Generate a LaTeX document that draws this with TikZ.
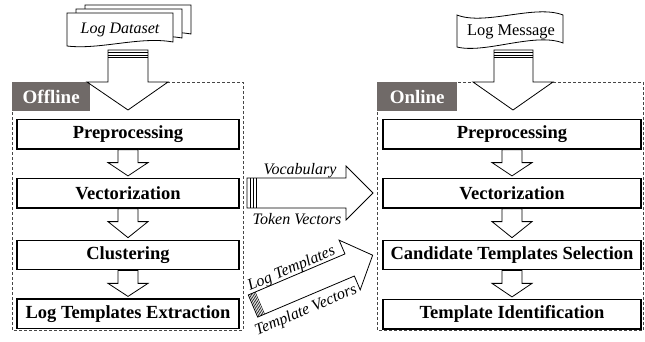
\documentclass[tikz,border=0pt]{standalone}
\usepackage{fontspec}
\setmainfont{Liberation Serif}
\usetikzlibrary{calc}
\definecolor{labgray}{RGB}{112,106,104}
\definecolor{dashgray}{RGB}{70,70,70}
\newcommand\blockdown[2]{%
  \draw[smallarrow] ($(#1.south)+(-10,0)$) -- ++(0,13) -- ++(-10,0)
    -- ($(#2.north)+(0,-2)$) -- ($(#1.south)+(20,13)$) -- ++(-10,0) -- ++(0,-13) -- cycle;}
\begin{document}
\begin{tikzpicture}[x=1pt,y=-1pt,
  box/.style={draw,line width=1.2pt,minimum height=29.5pt,inner sep=0pt,fill=white,
    font=\fontsize{18.5}{20}\selectfont\bfseries},
  lbox/.style={box,minimum width=222pt},
  rbox/.style={box,minimum width=258pt},
  frame/.style={draw=dashgray,line width=0.8pt,dash pattern=on 3pt off 2pt},
  modelab/.style={fill=labgray,text=white,inner sep=0pt,font=\fontsize{19}{20}\selectfont\bfseries},
  smallarrow/.style={draw,fill=white,line width=0.8pt,line join=miter},
  bigarrow/.style={draw,fill=white,line width=0.8pt,line join=miter},
  stripe/.style={line width=0.6pt},
  doc/.style={draw,fill=white,line width=0.8pt},
  itlab/.style={font=\fontsize{16}{18}\selectfont\itshape,inner sep=0pt},
]
\useasboundingbox (0,0) rectangle (645,341);

% frames
\draw[frame] (12,82) rectangle (243,330);
\draw[frame] (377,82) rectangle (643.5,330);
\node[modelab,minimum width=78pt,minimum height=29pt,anchor=north west] (offl) at (12,82) {Offline};
\node[modelab,minimum width=80pt,minimum height=29pt,anchor=north west] (onl) at (377,82) {Online};

% documents (Log Dataset)
\foreach \dx/\dy in {18/-8, 9/-4, 0/0}{
  \begin{scope}[shift={(67+\dx,13+\dy)}]
    \draw[doc] (0,0) -- (106,0) -- (106,29) .. controls (73,23) and (33,37) .. (0,33) -- cycle;
  \end{scope}
}
\node[itlab] (ds) at (120,30) {Log Dataset};

% tape (Log Message)
\draw[doc] (457,15) .. controls (485,26) and (535,4) .. (563,15) -- (563,43)
  .. controls (535,32) and (485,54) .. (457,47) -- cycle;
\node[font=\fontsize{16.4}{18}\selectfont,inner sep=0pt] (lm) at (511,32) {Log Message};

% big input arrows
\draw[bigarrow] (108,50) -- (148,50) -- (148,82) -- (168,82) -- (128,110) -- (87,82) -- (108,82) -- cycle;
\foreach \yy in {52.5,55,57.5} \draw[stripe] (108,\yy) -- (148,\yy);
\draw[bigarrow] (494,50) -- (533,50) -- (533,82) -- (553,82) -- (513,110) -- (473,82) -- (494,82) -- cycle;
\foreach \yy in {52.5,55,57.5} \draw[stripe] (494,\yy) -- (533,\yy);

% offline boxes
\node[lbox] (lp) at (128,134.25) {Preprocessing};
\node[lbox] (lv) at (128,193.25) {Vectorization};
\node[lbox] (lc) at (128,255) {Clustering};
\node[lbox] (le) at (128,313.75) {Log Templates Extraction};

% online boxes
\node[rbox] (rp) at (512,134.25) {Preprocessing};
\node[rbox] (rv) at (512,193.25) {Vectorization};
\node[rbox] (rc) at (512,255) {Candidate Templates Selection};
\node[rbox] (ri) at (512,314.25) {Template Identification};

\blockdown{lp}{lv}
\blockdown{lv}{lc}
\blockdown{lc}{le}
\blockdown{rp}{rv}
\blockdown{rv}{rc}
\blockdown{rc}{ri}

% vocabulary arrow
\draw[bigarrow] (247,178) -- (346,178) -- (346,166) -- (373,193) -- (346,220) -- (346,208) -- (247,208) -- cycle;
\foreach \xx in {250,253,256} \draw[stripe] (\xx,178) -- (\xx,208);
\node[itlab] (voc) at (300,171) {Vocabulary};
\node[itlab] (tok) at (297,219) {Token Vectors};

% template arrow (diagonal)
\begin{scope}[shift={(253,306)},rotate=23]
  \draw[bigarrow] (0,-12) -- (105,-12) -- (105,-27) -- (130,0) -- (105,27) -- (105,12) -- (0,12) -- cycle;
  \foreach \ss in {1.5,3,4.5,6,7.5} \draw[stripe,line width=0.5pt] (\ss,-12) -- (\ss,12);
  \node[itlab,rotate=23] (lt) at (50,-19) {Log Templates};
  \node[itlab,rotate=23] (tv) at (47,25) {Template Vectors};
\end{scope}
\end{tikzpicture}
\end{document}
